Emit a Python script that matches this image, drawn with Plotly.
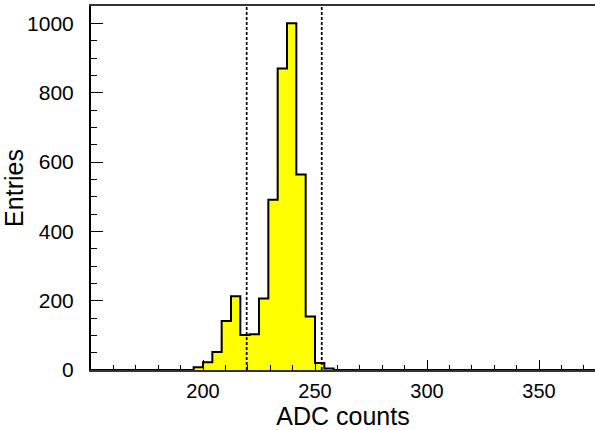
import numpy as np
import plotly.graph_objects as go

# Histogram definition: 60 bins from 150 to 400 ADC counts
hist_min = 150.0
hist_max = 400.0
n_bins = 60
counts = [0] * 60
nonzero_start = 11
nonzero_counts = [8, 22, 52, 141, 213, 101, 103, 206, 491, 870, 1000, 564, 154, 20, 4]
for i, c in enumerate(nonzero_counts):
    counts[nonzero_start + i] = c

cut_low = 219.5
cut_high = 253.0

x_tickvals = [200, 250, 300, 350]
y_tickvals = [0, 200, 400, 600, 800, 1000]
x_title = "ADC counts"
y_title = "Entries"

edges = np.linspace(hist_min, hist_max, n_bins + 1)
xs = list(edges)
ys = counts + [counts[-1]]

fig = go.Figure()
fig.add_trace(go.Scatter(
    x=xs, y=ys, mode="lines", line_shape="hv",
    line=dict(color="black", width=2),
    fill="tozeroy", fillcolor="#ffff00",
    hoverinfo="skip", showlegend=False,
))

for xc in (cut_low, cut_high):
    fig.add_shape(type="line", x0=xc, x1=xc, y0=0, y1=1050, xref="x", yref="y",
                  line=dict(color="black", width=1.7, dash="3px,2px"), layer="above")

font_fam = "Liberation Sans, Arial, sans-serif"
fig.update_layout(
    width=595, height=430,
    margin=dict(l=91, r=0, t=6, b=60),
    paper_bgcolor="white", plot_bgcolor="white",
    font=dict(family=font_fam, color="black"),
    xaxis=dict(
        range=[150, 375], showgrid=False, zeroline=False,
        showline=True, linecolor="#333333", linewidth=2, mirror=True,
        ticks="inside", ticklen=10, tickwidth=1, tickcolor="black",
        tickvals=x_tickvals, tickfont=dict(size=20), ticklabelstandoff=2,
        minor=dict(ticks="inside", ticklen=5, tick0=0, dtick=10, tickcolor="black"),
        title=dict(text=x_title, font=dict(size=25), standoff=6),
    ),
    yaxis=dict(
        range=[0, 1050], showgrid=False, zeroline=False,
        showline=True, linecolor="black", linewidth=2,
        ticks="inside", ticklen=12, tickwidth=1, tickcolor="black",
        tickvals=y_tickvals, tickfont=dict(size=21), ticklabelstandoff=11,
        minor=dict(ticks="inside", ticklen=6, tick0=0, dtick=50, tickcolor="black"),
        title=dict(text=y_title, font=dict(size=25), standoff=2),
    ),
)

fig.write_html("out.html", config={"displayModeBar": False},
               post_script="document.body.style.margin='0';")
